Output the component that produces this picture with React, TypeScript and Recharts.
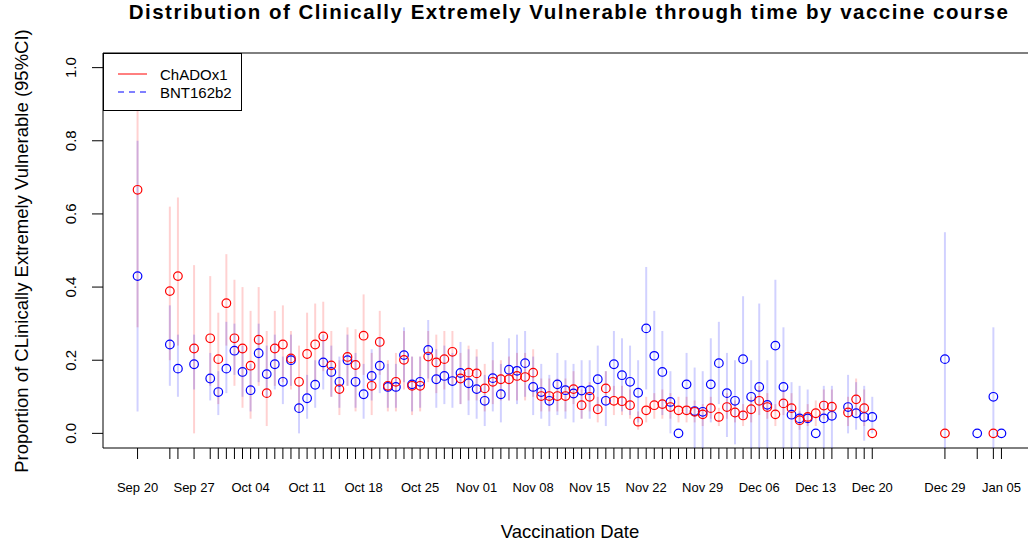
import React from 'react';
import { ComposedChart, Scatter, ErrorBar, XAxis, YAxis, ReferenceArea } from 'recharts';

// vaccination dates that have data (each gets a tick on the x axis)
const dates = [
  '2021-09-20', '2021-09-24', '2021-09-25', '2021-09-27', '2021-09-29', '2021-09-30',
  '2021-10-01', '2021-10-02', '2021-10-03', '2021-10-04', '2021-10-05', '2021-10-06', '2021-10-07', '2021-10-08',
  '2021-10-09', '2021-10-10', '2021-10-11', '2021-10-12', '2021-10-13', '2021-10-14', '2021-10-15', '2021-10-16',
  '2021-10-17', '2021-10-18', '2021-10-19', '2021-10-20', '2021-10-21', '2021-10-22', '2021-10-23', '2021-10-24',
  '2021-10-25', '2021-10-26', '2021-10-27', '2021-10-28', '2021-10-29', '2021-10-30', '2021-10-31',
  '2021-11-01', '2021-11-02', '2021-11-03', '2021-11-04', '2021-11-05', '2021-11-06', '2021-11-07', '2021-11-08',
  '2021-11-09', '2021-11-10', '2021-11-11', '2021-11-12', '2021-11-13', '2021-11-14', '2021-11-15', '2021-11-16',
  '2021-11-17', '2021-11-18', '2021-11-19', '2021-11-20', '2021-11-21', '2021-11-22', '2021-11-23', '2021-11-24',
  '2021-11-25', '2021-11-26', '2021-11-27', '2021-11-28', '2021-11-29', '2021-11-30',
  '2021-12-01', '2021-12-02', '2021-12-03', '2021-12-04', '2021-12-05', '2021-12-06', '2021-12-07', '2021-12-08',
  '2021-12-09', '2021-12-10', '2021-12-11', '2021-12-12', '2021-12-13', '2021-12-14', '2021-12-15',
  '2021-12-17', '2021-12-18', '2021-12-19', '2021-12-20', '2021-12-29',
  '2022-01-02', '2022-01-04', '2022-01-05',
];

// labelled dates on the x axis
const labelDates = [
  '2021-09-20', '2021-09-27', '2021-10-04', '2021-10-11', '2021-10-18', '2021-10-25', '2021-11-01', '2021-11-08',
  '2021-11-15', '2021-11-22', '2021-11-29', '2021-12-06', '2021-12-13', '2021-12-20', '2021-12-29', '2022-01-05',
];
const labelTexts = [
  'Sep 20', 'Sep 27', 'Oct 04', 'Oct 11', 'Oct 18', 'Oct 25', 'Nov 01', 'Nov 08',
  'Nov 15', 'Nov 22', 'Nov 29', 'Dec 06', 'Dec 13', 'Dec 20', 'Dec 29', 'Jan 05',
];

const yTicks = [0, 0.2, 0.4, 0.6, 0.8, 1.0];

// ChAdOx1 (red)
const chadValue = [
  0.666, 0.389, 0.43, 0.232, 0.26, 0.203,
  0.356, 0.26, 0.232, 0.185, 0.256, 0.11, 0.232, 0.243, 0.205, 0.141, 0.217, 0.243, 0.265, 0.186, 0.121, 0.209,
  0.187, 0.267, 0.13, 0.25, 0.13, 0.141, 0.201, 0.13, 0.13, 0.21, 0.194, 0.203, 0.223, 0.15, 0.166,
  0.164, 0.123, 0.141, 0.148, 0.148, 0.157, 0.154, 0.166, 0.102, 0.102, 0.102, 0.102, 0.121, 0.077, 0.1,
  0.066, 0.123, 0.089, 0.088, 0.077, 0.032, 0.063, 0.077, 0.08, 0.072, 0.063, 0.063, 0.059, 0.052, 0.069,
  0.045, 0.072, 0.057, 0.049, 0.066, 0.089, 0.072, 0.052, 0.082, 0.069, 0.036, 0.045, 0.055, 0.076, 0.073,
  0.057, 0.093, 0.069, 0, 0,
  null, 0, null,
];
const chadLow = [
  0.29, 0.2, 0.24, 0, 0.13, 0.08,
  0.24, 0.13, 0.07, 0.04, 0.13, 0.02, 0.13, 0.14, 0.12, 0.06, 0.11, 0.14, 0.17, 0.1, 0.05, 0.13,
  0.06, 0.16, 0.05, 0.16, 0.06, 0.06, 0.12, 0.05, 0.06, 0.14, 0.11, 0.12, 0.13, 0.08, 0.09,
  0.09, 0.06, 0.08, 0.09, 0.09, 0.09, 0.09, 0.1, 0.06, 0.06, 0.06, 0.06, 0.08, 0.04, 0.06,
  0.03, 0.08, 0.05, 0.05, 0.04, 0.01, 0.03, 0.04, 0.04, 0.04, 0.03, 0.03, 0.03, 0.02, 0.04,
  0.02, 0.04, 0.03, 0.02, 0.03, 0.05, 0.04, 0.02, 0.05, 0.04, 0.01, 0.02, 0.02, 0.04, 0.04,
  0.02, 0.05, 0.02, 0, 0,
  null, 0, null,
];
const chadHigh = [
  0.91, 0.62, 0.645, 0.46, 0.43, 0.33,
  0.49, 0.42, 0.4, 0.335, 0.4, 0.28, 0.335, 0.35, 0.28, 0.24, 0.33, 0.355, 0.36, 0.28, 0.2, 0.29,
  0.285, 0.38, 0.22, 0.335, 0.2, 0.22, 0.28, 0.21, 0.21, 0.28, 0.27, 0.28, 0.28, 0.22, 0.24,
  0.23, 0.19, 0.2, 0.2, 0.21, 0.22, 0.22, 0.23, 0.15, 0.15, 0.15, 0.15, 0.17, 0.12, 0.14,
  0.1, 0.17, 0.13, 0.13, 0.12, 0.06, 0.1, 0.11, 0.12, 0.11, 0.1, 0.1, 0.09, 0.08, 0.1,
  0.07, 0.11, 0.09, 0.08, 0.1, 0.13, 0.11, 0.08, 0.12, 0.11, 0.06, 0.08, 0.09, 0.12, 0.12,
  0.1, 0.15, 0.12, 0, 0,
  null, 0, null,
];

// BNT162b2 (blue)
const bntValue = [
  0.43, 0.243, 0.177, 0.189, 0.15, 0.113,
  0.177, 0.226, 0.168, 0.118, 0.219, 0.162, 0.189, 0.141, 0.2, 0.069, 0.096, 0.133, 0.194, 0.168, 0.141, 0.2,
  0.141, 0.107, 0.157, 0.185, 0.127, 0.127, 0.214, 0.134, 0.141, 0.228, 0.148, 0.157, 0.143, 0.165, 0.137,
  0.121, 0.089, 0.151, 0.107, 0.174, 0.171, 0.192, 0.127, 0.113, 0.089, 0.134, 0.118, 0.109, 0.117, 0.118,
  0.148, 0.089, 0.189, 0.159, 0.141, 0.111, 0.287, 0.212, 0.168, 0.086, 0, 0.134, 0.061, 0.059, 0.134,
  0.192, 0.11, 0.089, 0.203, 0.1, 0.127, 0.078, 0.24, 0.127, 0.051, 0.041, 0.041, 0, 0.041, 0.048,
  0.072, 0.055, 0.045, 0.045, 0.203,
  0, 0.1, 0,
];
const bntLow = [
  0.06, 0.13, 0.1, 0.12, 0.09, 0.05,
  0.11, 0.16, 0.1, 0.06, 0.14, 0.1, 0.12, 0.08, 0.13, 0, 0.04, 0.07, 0.12, 0.1, 0.07, 0.13,
  0.07, 0.04, 0.09, 0.11, 0.07, 0.07, 0.14, 0.06, 0.07, 0.15, 0.07, 0.08, 0.07, 0.08, 0.05,
  0.04, 0.02, 0.06, 0.03, 0.09, 0.08, 0.1, 0.05, 0.04, 0.02, 0.05, 0.04, 0.03, 0.04, 0.04,
  0.06, 0.02, 0.1, 0.06, 0.05, 0.03, 0.12, 0.09, 0.05, 0, 0, 0.05, -0.06, -0.06, 0.03,
  0.08, -0.01, -0.03, 0.04, -0.05, -0.1, -0.05, 0.06, -0.04, -0.05, -0.05, -0.04, 0, -0.05, -0.04,
  0, 0.01, -0.02, 0, -0.05,
  0, -0.05, 0,
];
const bntHigh = [
  0.8, 0.35, 0.27, 0.27, 0.22, 0.17,
  0.305, 0.3, 0.24, 0.19, 0.3, 0.24, 0.27, 0.21, 0.27, 0.13, 0.16, 0.2, 0.27, 0.24, 0.21, 0.27,
  0.22, 0.19, 0.23, 0.26, 0.19, 0.19, 0.29, 0.21, 0.21, 0.31, 0.23, 0.24, 0.22, 0.25, 0.23,
  0.21, 0.16, 0.25, 0.19, 0.26, 0.27, 0.28, 0.21, 0.19, 0.16, 0.22, 0.2, 0.19, 0.2, 0.2,
  0.24, 0.17, 0.28, 0.26, 0.24, 0.2, 0.455, 0.335, 0.28, 0.17, 0, 0.22, 0.18, 0.17, 0.26,
  0.305, 0.22, 0.2, 0.375, 0.2, 0.355, 0.2, 0.42, 0.29, 0.14, 0.13, 0.12, 0, 0.13, 0.13,
  0.16, 0.14, 0.13, 0.1, 0.55,
  0, 0.29, 0,
];

const FONT = '"Liberation Sans", Arial, sans-serif';
const RED = '#ff0000';
const BLUE = '#0000ff';

const t0 = Date.parse(dates[0]);
const dayOf = (s: string) => Math.round((Date.parse(s) - t0) / 86400000);
const days = dates.map(dayOf);
const labelByDay: Record<number, string> = {};
labelDates.forEach((s, i) => {
  labelByDay[dayOf(s)] = labelTexts[i];
});

// R style 4% padding on both axes
const span = days[days.length - 1] - days[0];
const xDomain = [days[0] - 0.04 * span, days[days.length - 1] + 0.04 * span];
const yDomain = [-0.04, 1.04];

// error bars are not clipped by the plot, so stop them at the bottom of the box
function makeRows(value: (number | null)[], low: (number | null)[], high: (number | null)[]) {
  return days
    .map((d, i) => {
      const v = value[i];
      if (v === null) return { d, v, err: [0, 0] };
      const lo = Math.max(low[i] as number, yDomain[0]);
      return { d, v, err: [v - lo, (high[i] as number) - v] };
    })
    .filter((r) => r.v !== null);
}

const chadRows = makeRows(chadValue, chadLow, chadHigh);
const bntRows = makeRows(bntValue, bntLow, bntHigh);

const XTick = (props: any) => {
  const label = labelByDay[props.payload.value];
  if (!label) return <g />;
  return (
    <text x={props.x} y={props.y + 26} textAnchor="middle" dominantBaseline="central" fontSize={13} fill="#000" fontFamily={FONT}>
      {label}
    </text>
  );
};

const YTick = (props: any) => {
  const x = props.x - 21;
  return (
    <text
      x={x}
      y={props.y}
      transform={`rotate(-90 ${x} ${props.y})`}
      textAnchor="middle"
      dominantBaseline="central"
      fontSize={15}
      fill="#000"
      fontFamily={FONT}
    >
      {Number(props.payload.value).toFixed(1)}
    </text>
  );
};

const ring = (color: string) => (props: any) =>
  <circle cx={props.cx} cy={props.cy} r={4.3} fill="none" stroke={color} strokeWidth={1.2} />;

const noMark = () => <g />;

export default function App() {
  return (
    <div style={{ position: 'absolute', left: 0, top: 0, width: 1028, height: 542, overflow: 'hidden', background: '#fff', fontFamily: FONT }}>
      <ComposedChart width={1046} height={542} margin={{ top: 53, right: 10, bottom: 0, left: 0 }}>
        <XAxis
          type="number"
          dataKey="d"
          domain={xDomain}
          allowDataOverflow
          ticks={days}
          interval={0}
          tick={XTick}
          tickSize={11}
          tickLine={{ stroke: '#000' }}
          axisLine={false}
          height={94}
        />
        <YAxis
          type="number"
          dataKey="v"
          domain={yDomain}
          allowDataOverflow
          ticks={yTicks}
          tick={YTick}
          tickSize={11}
          tickMargin={0}
          tickLine={{ stroke: '#000' }}
          axisLine={false}
          width={103}
        />
        <ReferenceArea x1={xDomain[0]} x2={xDomain[1]} y1={yDomain[0]} y2={yDomain[1]} fill="none" stroke="#000" strokeOpacity={1} />
        <Scatter data={chadRows} shape={noMark} isAnimationActive={false}>
          <ErrorBar dataKey="err" direction="y" width={0} stroke={RED} strokeOpacity={0.18} strokeWidth={2} isAnimationActive={false} />
        </Scatter>
        <Scatter data={bntRows} shape={noMark} isAnimationActive={false}>
          <ErrorBar dataKey="err" direction="y" width={0} stroke={BLUE} strokeOpacity={0.18} strokeWidth={2} isAnimationActive={false} />
        </Scatter>
        <Scatter data={bntRows} shape={ring(BLUE)} isAnimationActive={false} />
        <Scatter data={chadRows} shape={ring(RED)} isAnimationActive={false} />
      </ComposedChart>

      <div style={{ position: 'absolute', left: 569, top: 0, transform: 'translateX(-50%)', whiteSpace: 'nowrap', fontSize: 20.5, lineHeight: '23px', letterSpacing: '1.5px', fontWeight: 'bold', color: '#000' }}>
        Distribution of Clinically Extremely Vulnerable through time by vaccine course
      </div>

      <div style={{ position: 'absolute', left: 570, top: 532, transform: 'translate(-50%, -50%)', whiteSpace: 'nowrap', fontSize: 18.5, color: '#000' }}>
        Vaccination Date
      </div>

      <div style={{ position: 'absolute', left: 22, top: 251, transform: 'translate(-50%, -50%) rotate(-90deg)', whiteSpace: 'nowrap', fontSize: 18.5, color: '#000' }}>
        Proportion of CLinically Extremely Vulnerable (95%CI)
      </div>

      <svg style={{ position: 'absolute', left: 103, top: 53 }} width={139} height={58}>
        <rect x={0.5} y={0.5} width={138} height={57} fill="#fff" stroke="#000" strokeWidth={1} />
        <line x1={15} x2={44} y1={21} y2={21} stroke={RED} strokeWidth={1} />
        <line x1={15} x2={44} y1={39} y2={39} stroke={BLUE} strokeWidth={1} strokeDasharray="6 5" />
        <text x={57} y={21} dominantBaseline="central" fontSize={15} fill="#000" fontFamily={FONT}>ChADOx1</text>
        <text x={57} y={39} dominantBaseline="central" fontSize={15} fill="#000" fontFamily={FONT}>BNT162b2</text>
      </svg>
    </div>
  );
}
